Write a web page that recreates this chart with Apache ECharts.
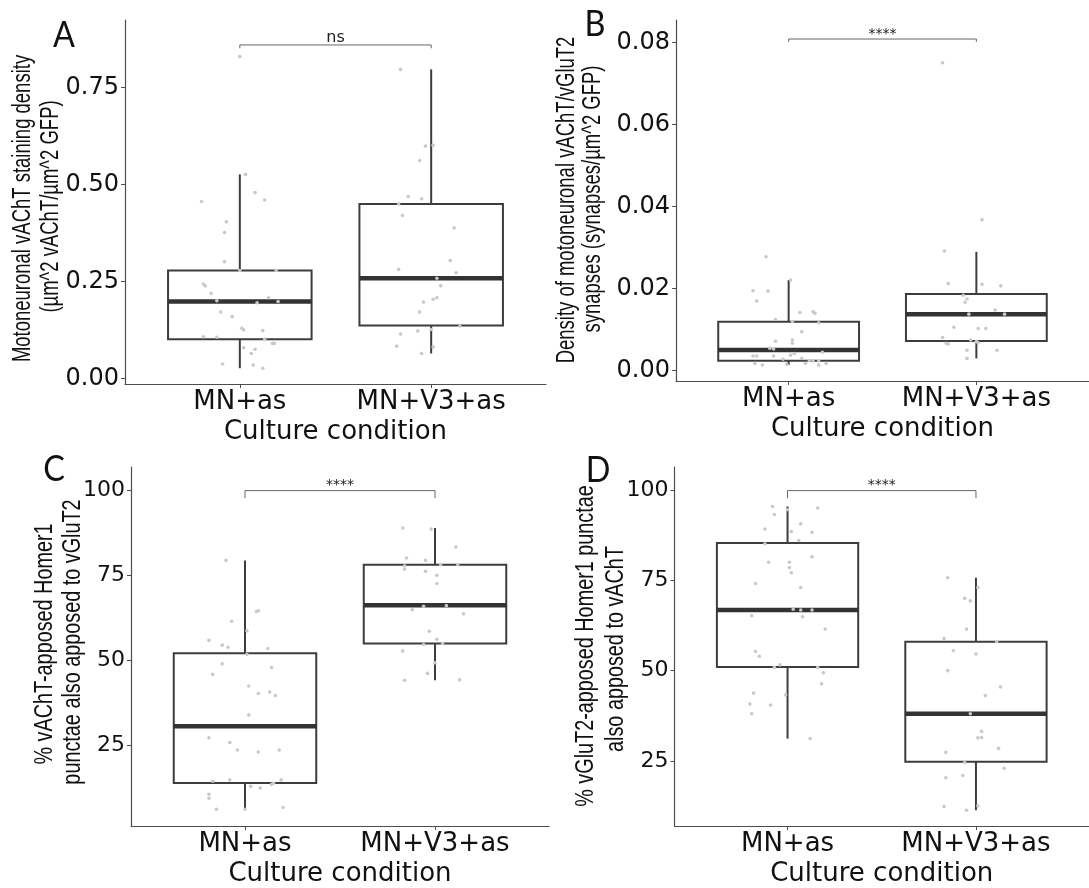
<!DOCTYPE html>
<html>
<head>
<meta charset="utf-8">
<title>Motoneuron synapse quantification</title>
<script src="https://cdn.jsdelivr.net/npm/echarts@6/dist/echarts.min.js"></script>
<style>
  html, body { margin: 0; padding: 0; background: #ffffff; }
  #chart { width: 1089px; height: 888px; }
</style>
</head>
<body>
<div id="chart"></div>
<script>
// ---- shared categories / titles ----
const groups = ['MN+as', 'MN+V3+as'];
const xTitle = 'Culture condition';

// ---- A: vAChT staining density ----
const yTitleA = ['Motoneuronal vAChT staining density', '(µm^2 vAChT/µm^2 GFP)'];
const yTicksA = [0, 0.25, 0.5, 0.75];
const yRangeA = [-0.0147, 0.9244];
// whisker low, Q1, median, Q3, whisker high
const boxA_MN = [0.026, 0.101, 0.198, 0.278, 0.526];
const boxA_V3 = [0.064, 0.136, 0.258, 0.450, 0.797];
// [horizontal jitter (category units), value]
const dotsA_MN = [[0.00,0.830],[0.03,0.526],[-0.20,0.456],[0.08,0.479],[0.13,0.460],[-0.07,0.404],[-0.08,0.376],[-0.08,0.301],[0.00,0.278],[0.19,0.278],[-0.19,0.243],[-0.18,0.238],[-0.15,0.219],[-0.12,0.200],[0.15,0.208],[0.09,0.195],[0.20,0.198],[-0.10,0.171],[-0.04,0.159],[0.01,0.129],[0.02,0.125],[0.12,0.123],[-0.19,0.107],[-0.12,0.106],[0.13,0.101],[0.17,0.090],[0.18,0.090],[0.02,0.079],[0.08,0.075],[0.06,0.064],[-0.09,0.037],[0.07,0.034],[0.12,0.026]];
const dotsA_V3 = [[-0.16,0.797],[-0.03,0.599],[0.01,0.601],[-0.06,0.562],[-0.12,0.469],[-0.05,0.463],[-0.17,0.450],[-0.15,0.420],[0.12,0.388],[0.10,0.304],[-0.17,0.281],[0.13,0.272],[0.03,0.258],[0.05,0.239],[0.03,0.208],[0.01,0.204],[-0.04,0.197],[-0.06,0.171],[0.15,0.135],[0.00,0.126],[-0.07,0.122],[-0.16,0.114],[-0.18,0.083],[0.01,0.081],[-0.05,0.064]];
const bracketA = [0.860, 0.8515];
const signifA = 'ns';

// ---- B: vAChT/vGluT2 synapse density ----
const yTitleB = ['Density of motoneuronal vAChT/vGluT2', 'synapses (synapses/µm^2 GFP)'];
const yTicksB = [0, 0.02, 0.04, 0.06, 0.08];
const yRangeB = [-0.00251, 0.08554];
const boxB_MN = [0.0014, 0.00244, 0.00505, 0.01195, 0.0221];
const boxB_V3 = [0.0030, 0.00724, 0.01375, 0.0187, 0.0290];
const dotsB_MN = [[-0.12,0.0278],[0.01,0.0221],[-0.19,0.0195],[-0.11,0.0194],[-0.17,0.0170],[0.06,0.0142],[0.13,0.0144],[0.14,0.0140],[-0.07,0.0125],[0.02,0.0120],[0.16,0.0117],[0.07,0.0095],[-0.07,0.0072],[0.02,0.0075],[0.02,0.0067],[-0.10,0.0055],[-0.08,0.0053],[0.03,0.0042],[0.18,0.0045],[-0.19,0.0036],[-0.17,0.0036],[-0.08,0.0036],[0.01,0.0038],[-0.03,0.0028],[0.07,0.0030],[0.11,0.0025],[0.13,0.0024],[0.16,0.0024],[-0.18,0.0018],[-0.14,0.0014],[-0.01,0.0016],[0.09,0.0018],[0.16,0.0014],[0.20,0.0018]];
const dotsB_V3 = [[-0.18,0.0751],[0.03,0.0368],[-0.17,0.0292],[-0.15,0.0213],[0.03,0.0211],[0.13,0.0207],[-0.07,0.0184],[-0.05,0.0175],[-0.06,0.0167],[0.10,0.0148],[-0.04,0.0138],[0.15,0.0138],[-0.12,0.0106],[0.01,0.0103],[0.05,0.0103],[-0.18,0.0081],[-0.16,0.0067],[-0.15,0.0065],[-0.03,0.0075],[0.00,0.0071],[0.01,0.0068],[-0.05,0.0050],[0.11,0.0050],[-0.05,0.0030]];
const bracketB = [0.0809, 0.0802];
const signifB = '****';

// ---- C: vAChT-apposed Homer1 also apposed to vGluT2 ----
const yTitleC = ['% vAChT-apposed Homer1', 'punctae also apposed to vGluT2'];
const yTicksC = [25, 50, 75, 100];
const yRangeC = [1.26, 106.74];
const boxC_MN = [6.2, 13.9, 30.6, 52.0, 79.3];
const boxC_V3 = [44.1, 54.9, 66.1, 78.0, 88.8];
const dotsC_MN = [[-0.10,79.3],[0.07,64.5],[0.06,64.3],[-0.07,61.4],[0.01,58.6],[-0.19,55.8],[-0.12,54.4],[-0.09,53.8],[0.12,53.4],[0.01,51.7],[-0.12,48.9],[0.14,47.8],[-0.17,45.8],[0.02,42.4],[0.07,40.2],[0.13,40.6],[0.16,39.6],[0.02,33.9],[-0.19,27.2],[-0.08,25.8],[-0.04,23.6],[0.07,23.0],[0.18,23.6],[-0.17,14.4],[-0.08,14.8],[0.19,14.8],[0.14,13.5],[0.15,13.8],[0.03,12.9],[0.08,12.4],[-0.19,10.6],[-0.19,9.4],[-0.15,6.2],[0.00,6.2],[0.20,6.7]];
const dotsC_V3 = [[-0.17,88.8],[-0.02,88.5],[0.11,83.2],[-0.15,80.0],[-0.05,79.3],[-0.16,77.7],[-0.16,76.7],[0.03,78.0],[0.12,78.0],[-0.05,76.1],[0.01,74.9],[0.01,72.5],[-0.06,65.8],[0.06,66.0],[-0.12,64.8],[0.15,63.6],[-0.03,58.5],[0.01,56.1],[-0.06,54.6],[0.04,54.9],[-0.17,52.7],[0.00,49.2],[-0.04,46.1],[-0.16,44.1],[0.13,44.2]];
const bracketC = [99.8, 97.6];
const signifC = '****';

// ---- D: vGluT2-apposed Homer1 also apposed to vAChT ----
const yTitleD = ['% vGluT2-apposed Homer1 punctae', 'also apposed to vAChT'];
const yTicksD = [25, 50, 75, 100];
const yRangeD = [7.04, 106.33];
const boxD_MN = [31.2, 51.0, 66.8, 85.3, 95.4];
const boxD_V3 = [11.4, 24.8, 38.1, 58.0, 75.7];
const dotsD_MN = [[-0.08,95.4],[0.00,94.5],[0.16,95.0],[-0.07,93.2],[-0.12,89.2],[0.07,90.6],[0.02,88.5],[0.13,88.3],[0.06,86.0],[-0.12,85.1],[0.13,81.5],[-0.10,80.0],[0.01,80.0],[0.01,78.5],[0.02,77.1],[-0.17,74.1],[0.07,73.0],[0.03,67.0],[0.07,66.8],[0.13,66.8],[-0.19,65.2],[0.08,64.9],[0.20,61.5],[-0.17,55.3],[-0.15,54.0],[-0.07,50.9],[-0.04,51.6],[0.16,50.9],[0.19,49.4],[0.18,46.4],[-0.18,43.8],[-0.01,43.3],[-0.20,40.8],[-0.09,40.5],[-0.19,38.1],[0.12,31.2]];
const dotsD_V3 = [[-0.15,75.7],[0.01,73.0],[-0.06,70.0],[-0.03,69.3],[-0.05,61.5],[-0.17,58.9],[0.11,58.0],[-0.12,55.5],[0.00,54.6],[-0.15,50.0],[0.13,45.5],[0.05,43.1],[-0.03,38.1],[0.03,33.2],[0.01,31.4],[0.03,31.5],[-0.16,27.4],[0.12,28.5],[-0.06,24.6],[0.15,23.0],[-0.16,20.4],[-0.07,21.0],[-0.17,12.45],[-0.05,11.4],[0.01,12.6]];
const bracketD = [99.8, 97.7];
const signifD = '****';

// ---- styling ----
const FONT = '"DejaVu Sans", "Liberation Sans", sans-serif';
const TITLE_FONT = '"Liberation Sans", Arial, sans-serif';
const LETTER_FONT = 'Lato, "Open Sans", sans-serif';
const AXIS_COLOR = '#4d4d4d';
const BOX_COLOR = '#3d3d3d';
const DOT_COLOR = '#c9c9c9';
const BOX_WIDTH = 0.75;   // ggplot default, in category units

const panels = [
  { letter: 'A', grid: { left: 125, top: 20, width: 421, height: 364 },
    yTicks: yTicksA, yRange: yRangeA, decimals: 2, tickSize: 24,
    boxes: [boxA_MN, boxA_V3], dots: [dotsA_MN, dotsA_V3],
    bracket: bracketA, signif: signifA,
    title: yTitleA, titleX: [22.7, 51], titleY: [208.5, 206.5], squeeze: 0.711,
    letterPos: [64, 35] },
  { letter: 'B', grid: { left: 676, top: 20, width: 418, height: 361 },
    yTicks: yTicksB, yRange: yRangeB, decimals: 2, tickSize: 24,
    boxes: [boxB_MN, boxB_V3], dots: [dotsB_MN, dotsB_V3],
    bracket: bracketB, signif: signifB,
    title: yTitleB, titleX: [567, 593], titleY: [200, 199], squeeze: 0.711,
    letterPos: [595, 24] },
  { letter: 'C', grid: { left: 131, top: 467, width: 418, height: 360 },
    yTicks: yTicksC, yRange: yRangeC, decimals: 0, tickSize: 22,
    boxes: [boxC_MN, boxC_V3], dots: [dotsC_MN, dotsC_V3],
    bracket: bracketC, signif: signifC,
    title: yTitleC, titleX: [45, 73], titleY: [644, 642], squeeze: 0.762,
    letterPos: [54, 469] },
  { letter: 'D', grid: { left: 674.5, top: 467, width: 419, height: 361 },
    yTicks: yTicksD, yRange: yRangeD, decimals: 0, tickSize: 22,
    boxes: [boxD_MN, boxD_V3], dots: [dotsD_MN, dotsD_V3],
    bracket: bracketD, signif: signifD,
    title: yTitleD, titleX: [586, 616], titleY: [646, 649], squeeze: 0.762,
    letterPos: [598, 470] }
];

function renderBox(params, api) {
  const cat = api.value(0);
  const lo = api.value(1), q1 = api.value(2), med = api.value(3), q3 = api.value(4), hi = api.value(5);
  const half = api.size([BOX_WIDTH, 0])[0] / 2;
  const pHi = api.coord([cat, hi]);
  const pQ3 = api.coord([cat, q3]);
  const pMed = api.coord([cat, med]);
  const pQ1 = api.coord([cat, q1]);
  const pLo = api.coord([cat, lo]);
  const cx = pMed[0];
  return {
    type: 'group',
    children: [
      { type: 'line', shape: { x1: cx, y1: pHi[1], x2: cx, y2: pQ3[1] }, style: { stroke: BOX_COLOR, lineWidth: 2 } },
      { type: 'line', shape: { x1: cx, y1: pQ1[1], x2: cx, y2: pLo[1] }, style: { stroke: BOX_COLOR, lineWidth: 2 } },
      { type: 'rect', shape: { x: cx - half, y: pQ3[1], width: half * 2, height: pQ1[1] - pQ3[1] },
        style: { fill: '#ffffff', stroke: BOX_COLOR, lineWidth: 2 } },
      { type: 'line', shape: { x1: cx - half, y1: pMed[1], x2: cx + half, y2: pMed[1] },
        style: { stroke: '#333333', lineWidth: 4.5 } }
    ]
  };
}

function makeBracketRenderer(label) {
  const isNs = label === 'ns';
  return function (params, api) {
    const a = api.coord([api.value(0), api.value(2)]);
    const b = api.coord([api.value(1), api.value(2)]);
    const ta = api.coord([api.value(0), api.value(3)]);
    const tb = api.coord([api.value(1), api.value(3)]);
    return {
      type: 'group',
      children: [
        { type: 'polyline', shape: { points: [ta, a, b, tb] },
          style: { stroke: '#666666', lineWidth: 1, fill: null } },
        { type: 'text', x: (a[0] + b[0]) / 2, y: a[1] + (isNs ? 1 : 2),
          style: { text: label, fontSize: isNs ? 16 : 14, fontFamily: FONT, fill: '#222222',
                   align: 'center', verticalAlign: 'bottom',
                   textAlign: 'center', textVerticalAlign: 'bottom' } }
      ]
    };
  };
}

const grids = [], xAxes = [], yAxes = [], series = [], graphics = [];

panels.forEach((p, i) => {
  grids.push(Object.assign({ containLabel: false }, p.grid));

  xAxes.push({
    type: 'value', gridIndex: i, min: 0.4, max: 2.6,
    axisLine: { show: true, onZero: false, lineStyle: { color: AXIS_COLOR, width: 1.2 } },
    axisTick: { show: true, customValues: [1, 2], length: 4, lineStyle: { color: AXIS_COLOR, width: 1 } },
    axisLabel: { customValues: [1, 2], formatter: v => groups[Math.round(v) - 1],
                 fontSize: 26, fontFamily: FONT, color: '#111111', margin: 5 },
    splitLine: { show: false },
    name: xTitle, nameLocation: 'middle', nameGap: 35,
    nameTextStyle: { fontSize: 26, fontFamily: FONT, color: '#111111' }
  });

  yAxes.push({
    type: 'value', gridIndex: i, min: p.yRange[0], max: p.yRange[1],
    axisLine: { show: true, onZero: false, lineStyle: { color: AXIS_COLOR, width: 1.2 } },
    axisTick: { show: true, customValues: p.yTicks, length: 4, lineStyle: { color: AXIS_COLOR, width: 1 } },
    axisLabel: { customValues: p.yTicks, formatter: v => Number(v).toFixed(p.decimals),
                 fontSize: p.tickSize, fontFamily: FONT, color: '#111111', margin: 6 },
    splitLine: { show: false }
  });

  series.push({
    type: 'custom', xAxisIndex: i, yAxisIndex: i, z: 2, clip: false,
    renderItem: renderBox,
    encode: { x: 0, y: [1, 2, 3, 4, 5] },
    data: p.boxes.map((b, g) => [g + 1].concat(b))
  });

  const pts = [];
  p.dots.forEach((set, g) => set.forEach(([jit, v]) => pts.push([g + 1 + jit, v])));
  series.push({
    type: 'scatter', xAxisIndex: i, yAxisIndex: i, z: 3,
    symbol: 'circle', symbolSize: 3.6,
    itemStyle: { color: DOT_COLOR, opacity: 1 },
    data: pts
  });

  series.push({
    type: 'custom', xAxisIndex: i, yAxisIndex: i, z: 4, clip: false,
    renderItem: makeBracketRenderer(p.signif),
    encode: { x: [0, 1], y: [2, 3] },
    data: [[1, 2, p.bracket[0], p.bracket[1]]]
  });

  // rotated two-line axis title (condensed)
  p.title.forEach((line, k) => {
    graphics.push({
      type: 'text', silent: true,
      x: p.titleX[k], y: p.titleY[k],
      rotation: Math.PI / 2, scaleX: p.squeeze, scaleY: 1,
      style: { text: line, fontSize: 26, fontFamily: TITLE_FONT, fill: '#111111',
               align: 'center', verticalAlign: 'middle',
               textAlign: 'center', textVerticalAlign: 'middle' }
    });
  });

  // panel letter
  graphics.push({
    type: 'text', silent: true,
    x: p.letterPos[0], y: p.letterPos[1], scaleX: 0.9, scaleY: 1,
    style: { text: p.letter, fontSize: 36, fontFamily: LETTER_FONT, fill: '#111111',
             align: 'center', verticalAlign: 'middle',
             textAlign: 'center', textVerticalAlign: 'middle' }
  });
});

const chart = echarts.init(document.getElementById('chart'), null, { renderer: 'canvas' });
chart.setOption({
  animation: false,
  backgroundColor: '#ffffff',
  textStyle: { fontFamily: FONT },
  grid: grids,
  xAxis: xAxes,
  yAxis: yAxes,
  series: series,
  graphic: { elements: graphics }
});
</script>
</body>
</html>
